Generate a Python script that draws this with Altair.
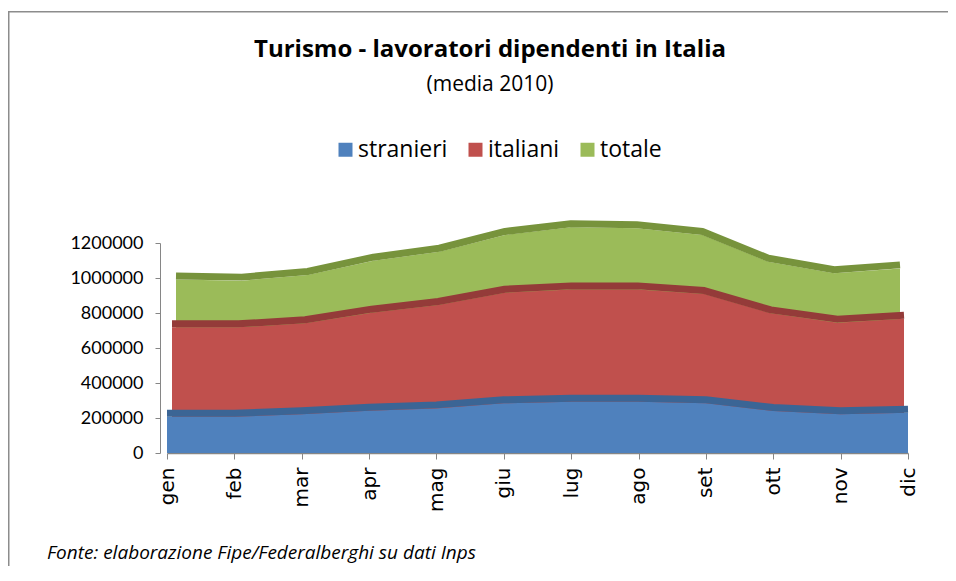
import altair as alt
import pandas as pd

months = ["gen", "feb", "mar", "apr", "mag", "giu", "lug", "ago", "set", "ott", "nov", "dic"]
stranieri = [207000, 207000, 221000, 242000, 255000, 284000, 293000, 293000, 284000, 240000, 221000, 230000]
italiani = [718000, 718000, 741000, 802000, 846000, 916000, 935000, 935000, 908000, 798000, 745000, 767000]
totale = [992000, 985000, 1017000, 1099000, 1150000, 1246000, 1290000, 1284000, 1246000, 1093000, 1027000, 1055000]

series_names = ["stranieri", "italiani", "totale"]
fill_colors = ["#4f81bd", "#c0504d", "#9bbb59"]
strip_colors = ["#3b6595", "#943b39", "#77933c"]

title_text = "Turismo - lavoratori dipendenti in Italia"
subtitle_text = "(media 2010)"
footer_text = "Fonte: elaborazione Fipe/Federalberghi su dati Inps"

rows = []
for name, vals in zip(series_names, [stranieri, italiani, totale]):
    for m, v in zip(months, vals):
        rows.append({"mese": m, "serie": name, "valore": v})
df = pd.DataFrame(rows)

W, H = 741, 210
y_enc = alt.Y("valore:Q",
              scale=alt.Scale(domain=[0, 1200000], nice=False),
              axis=alt.Axis(values=[0, 200000, 400000, 600000, 800000, 1000000, 1200000],
                            format="d", title=None, grid=False, offset=7,
                            domainColor="#868686", tickColor="#868686", tickSize=5,
                            labelPadding=12, labelFont="Lato", labelFontSize=18,
                            labelColor="#000000"))

color_enc = alt.Color("serie:N",
                      scale=alt.Scale(domain=series_names, range=fill_colors),
                      legend=alt.Legend(title=None, orient="none", direction="horizontal",
                                        columns=3, legendX=167, legendY=-105,
                                        symbolType="square", symbolSize=196,
                                        symbolStrokeWidth=0, labelFont="Open Sans",
                                        labelFontSize=23, labelColor="#000000",
                                        labelOffset=1, columnPadding=16))

ranges = {"stranieri": [0, W], "italiani": [5, W - 4], "totale": [9, W - 8]}


def series_layer(idx):
    name = series_names[idx]
    base = alt.Chart(df).transform_filter(alt.datum.serie == name)
    if name == "stranieri":
        x_axis = alt.Axis(title=None, labelAngle=-90, labelFont="DejaVu Sans",
                          labelFontSize=20, labelColor="#000000", tickSize=6,
                          domainColor="#868686", tickColor="#868686", labelPadding=8,
                          domainWidth=1.5)
    else:
        x_axis = None
    x_enc = alt.X("mese:N", sort=months,
                  scale=alt.Scale(type="point", padding=0, range=ranges[name]),
                  axis=x_axis)
    area = base.mark_area(opacity=1).encode(x=x_enc, y=y_enc, color=color_enc)
    strip = base.mark_line(strokeWidth=7, yOffset=-3.5, strokeJoin="round").encode(
        x=x_enc, y=y_enc, color=alt.value(strip_colors[idx]))
    return alt.layer(area, strip)


text_df = pd.DataFrame({"t": [title_text], "s": [subtitle_text], "f": [footer_text]})

frame_top = alt.Chart(text_df).mark_rect(fill="#8c8c8c", strokeWidth=0).encode(
    x=alt.value(-159), x2=alt.value(900), y=alt.value(-232), y2=alt.value(-230.5))
frame_left = alt.Chart(text_df).mark_rect(fill="#8c8c8c", strokeWidth=0).encode(
    x=alt.value(-159), x2=alt.value(-157.5), y=alt.value(-232), y2=alt.value(400))

title = alt.Chart(text_df).mark_text(font="Open Sans", fontSize=24, fontWeight="bold",
                                     align="center", baseline="middle", color="#000000").encode(
    text="t:N", x=alt.value(323), y=alt.value(-193))
subtitle = alt.Chart(text_df).mark_text(font="Open Sans", fontSize=21,
                                        align="center", baseline="middle", color="#000000").encode(
    text="s:N", x=alt.value(323), y=alt.value(-158))
footer = alt.Chart(text_df).mark_text(font="Open Sans", fontSize=19, fontStyle="italic",
                                      align="left", baseline="middle", color="#000000").encode(
    text="f:N", x=alt.value(-120), y=alt.value(310))

chart = alt.layer(
    frame_top, frame_left,
    series_layer(2), series_layer(1), series_layer(0),
    title, subtitle, footer,
).resolve_scale(x="independent").properties(
    width=W, height=H,
    padding={"left": 159, "top": 235, "right": 40, "bottom": 113},
    autosize=alt.AutoSizeParams(type="none"),
    background="#ffffff",
).configure_view(stroke=None)

chart.save("out.html", embed_options={"renderer": "svg", "actions": False})
